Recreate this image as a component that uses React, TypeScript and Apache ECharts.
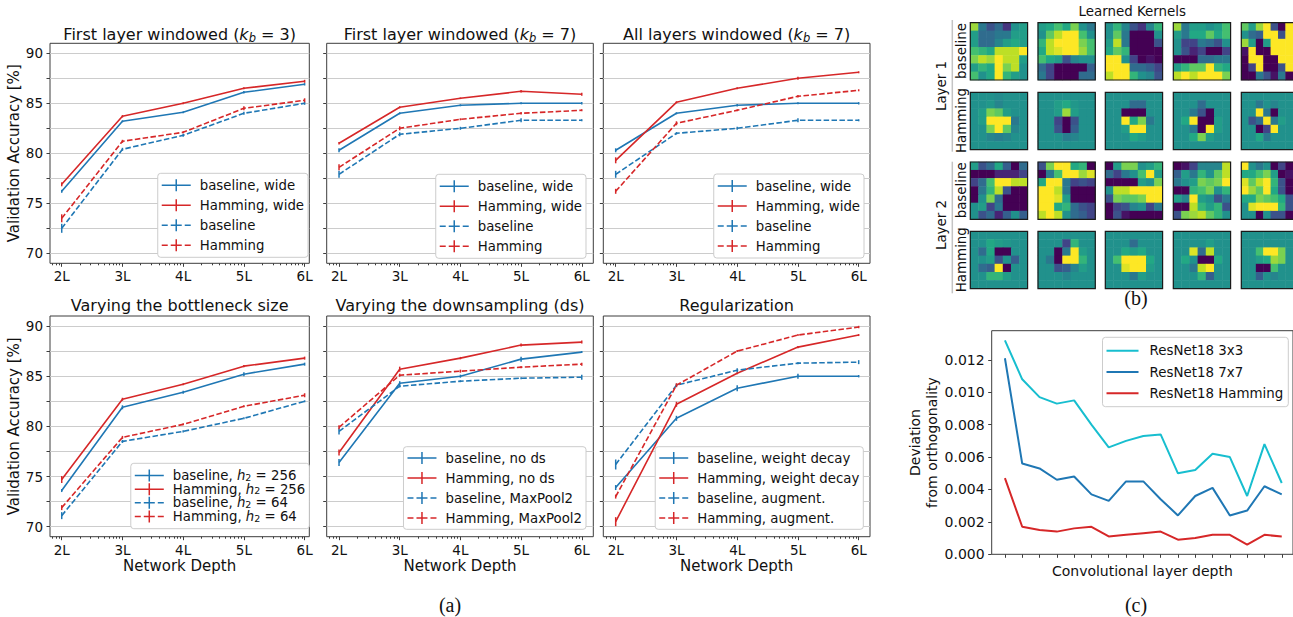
import React, { useEffect, useRef } from 'react';
import * as echarts from 'echarts';

const FONT = 'DejaVu Sans';
const SERIF = 'Liberation Serif';
const BLUE = '#1f77b4';
const RED = '#d62728';
const CYAN = '#17becf';
const INK = '#111111';
const SPINE = '#3d3d3d';

// ---------- (a) accuracy panels ----------
const DEPTH = [2, 3, 4, 5, 6];
const ACC_LABELS = [70, 75, 80, 85, 90];
const ACC_TICKS = [70, 72.5, 75, 77.5, 80, 82.5, 85, 87.5, 90];

const P1_BASE_WIDE = [76.2, 83.2, 84.1, 86.1, 86.9];
const P1_HAM_WIDE = [76.9, 83.7, 85.0, 86.5, 87.2];
const P1_BASE = [72.5, 80.4, 81.8, 84.0, 85.0];
const P1_HAM = [73.5, 81.2, 82.1, 84.5, 85.3];
const P1_BASE_WIDE_ERR = [0.15, 0.1, 0.1, 0.12, 0.12];
const P1_HAM_WIDE_ERR = [0.2, 0.12, 0.1, 0.1, 0.15];
const P1_BASE_ERR = [0.45, 0.15, 0.15, 0.15, 0.15];
const P1_HAM_ERR = [0.4, 0.15, 0.1, 0.2, 0.2];

const P2_BASE_WIDE = [80.3, 84.0, 84.8, 85.0, 85.0];
const P2_HAM_WIDE = [81.0, 84.6, 85.5, 86.2, 85.9];
const P2_BASE = [77.9, 81.9, 82.5, 83.3, 83.3];
const P2_HAM = [78.6, 82.5, 83.4, 84.0, 84.3];
const P2_BASE_WIDE_ERR = [0.2, 0.1, 0.1, 0.1, 0.12];
const P2_HAM_WIDE_ERR = [0.12, 0.1, 0.08, 0.12, 0.15];
const P2_BASE_ERR = [0.35, 0.2, 0.15, 0.2, 0.1];
const P2_HAM_ERR = [0.3, 0.2, 0.1, 0.12, 0.1];

const P3_BASE_WIDE = [80.3, 84.0, 84.8, 85.0, 85.0];
const P3_HAM_WIDE = [79.3, 85.1, 86.5, 87.5, 88.1];
const P3_BASE = [77.9, 82.0, 82.5, 83.3, 83.3];
const P3_HAM = [76.2, 83.0, 84.3, 85.7, 86.3];
const P3_BASE_WIDE_ERR = [0.2, 0.1, 0.12, 0.1, 0.12];
const P3_HAM_WIDE_ERR = [0.3, 0.1, 0.1, 0.15, 0.1];
const P3_BASE_ERR = [0.35, 0.12, 0.15, 0.2, 0.1];
const P3_HAM_ERR = [0.25, 0.2, 0.1, 0.12, 0.1];

const P4_BASE_256 = [73.6, 81.9, 83.4, 85.2, 86.2];
const P4_HAM_256 = [74.7, 82.7, 84.2, 86.0, 86.8];
const P4_BASE_64 = [71.1, 78.5, 79.5, 80.8, 82.5];
const P4_HAM_64 = [71.9, 78.9, 80.2, 82.0, 83.1];
const P4_BASE_256_ERR = [0.15, 0.2, 0.15, 0.2, 0.15];
const P4_HAM_256_ERR = [0.35, 0.15, 0.1, 0.12, 0.15];
const P4_BASE_64_ERR = [0.35, 0.15, 0.12, 0.1, 0.1];
const P4_HAM_64_ERR = [0.25, 0.15, 0.1, 0.1, 0.2];

const P5_BASE_NODS = [76.4, 84.3, 85.0, 86.7, 87.4];
const P5_HAM_NODS = [77.4, 85.7, 86.8, 88.1, 88.4];
const P5_BASE_POOL = [79.5, 84.0, 84.5, 84.8, 84.9];
const P5_HAM_POOL = [79.9, 85.1, 85.5, 85.9, 86.2];
const P5_BASE_NODS_ERR = [0.35, 0.2, 0.15, 0.25, 0.1];
const P5_HAM_NODS_ERR = [0.3, 0.25, 0.12, 0.15, 0.15];
const P5_BASE_POOL_ERR = [0.3, 0.12, 0.1, 0.1, 0.25];
const P5_HAM_POOL_ERR = [0.2, 0.15, 0.15, 0.1, 0.15];

const P6_BASE_WD = [73.9, 80.8, 83.8, 85.0, 85.0];
const P6_HAM_WD = [70.5, 82.2, 85.3, 87.9, 89.1];
const P6_BASE_AUG = [76.2, 84.1, 85.6, 86.3, 86.4];
const P6_HAM_AUG = [73.0, 84.1, 87.5, 89.1, 89.9];
const P6_BASE_WD_ERR = [0.25, 0.25, 0.3, 0.25, 0.12];
const P6_HAM_WD_ERR = [0.45, 0.25, 0.1, 0.12, 0.1];
const P6_BASE_AUG_ERR = [0.5, 0.15, 0.2, 0.1, 0.2];
const P6_HAM_AUG_ERR = [0.2, 0.2, 0.1, 0.1, 0.12];

// ---------- (c) orthogonality ----------
const LAYER_IDX = [1, 2, 3, 4, 5, 6, 7, 8, 9, 10, 11, 12, 13, 14, 15, 16, 17];
const ORTHO_TICKS = [0, 0.002, 0.004, 0.006, 0.008, 0.01, 0.012];
const ORTHO_3X3 = [0.0132, 0.0108, 0.0097, 0.0093, 0.0095, 0.0080, 0.0066, 0.0070, 0.0073, 0.0074, 0.0050, 0.0052, 0.0062, 0.0060, 0.0036, 0.0068, 0.0044];
const ORTHO_7X7 = [0.0121, 0.0056, 0.0053, 0.0046, 0.0048, 0.0037, 0.0033, 0.0045, 0.0045, 0.0034, 0.0024, 0.0036, 0.0041, 0.0024, 0.0027, 0.0042, 0.0037];
const ORTHO_HAM = [0.0047, 0.0017, 0.0015, 0.0014, 0.0016, 0.0017, 0.0011, 0.0012, 0.0013, 0.0014, 0.0009, 0.0010, 0.0012, 0.0012, 0.0006, 0.0012, 0.0011];

// ---------- (b) learned kernels (7x7, -1 = dark purple, 0 = teal, 1 = yellow) ----------
const L1_BASELINE = [
  [[0.7, -0.2, -0.5, -0.3, -0.7, 0, 0.1], [0.1, -0.3, -0.3, -0.2, -0.2, 0.1, 0.1], [0.1, -0.3, -0.3, -0.1, 0.1, 0.2, 0.1], [0.4, 0.3, 0.2, 0.8, 0.8, 0.8, 1], [0.6, 0.8, 0.7, 1, 0.8, 0.8, 0.1], [0.1, 0.3, 0.2, 1, 0.6, 0.8, 0], [0.4, 0, 0.2, 1, 0.3, 0.1, 0]],
  [[0.1, 0.2, 0.4, 0.2, 0.6, 0, -0.2], [0, 0.5, 0.8, 1, 1, 0.4, 0], [0.3, 0.8, 1, 1, 1, 0.6, 0.4], [0.2, 0.8, 0.9, 1, 1, 0.7, 0.4], [0.4, 0.2, 0.1, -0.5, -0.1, 0, 0], [-0.3, -0.6, -1, -1, -1, -1, -0.4], [-0.2, -0.6, -1, -1, -1, -0.3, -0.3]],
  [[0, 0.3, -0.1, -0.5, -0.7, -0.1, 0.3], [0, 0.5, -0.2, -1, -1, -1, 0], [0.1, 0.8, -0.2, -1, -1, -1, -0.5], [0.2, 0.5, 0.3, -1, -1, -1, -1], [1, 1, 0, -0.6, -1, -0.9, -1], [1, 1, 1, -0.3, -0.3, -0.4, -0.6], [0.8, 1, 1, 0.3, 0, -0.1, -0.5]],
  [[0.7, -0.2, 0.1, 0.1, 0, 0.1, 0.4], [0.1, -0.2, 0.2, 0.2, 0.5, 0.2, 0.4], [0, -0.6, -0.6, -0.2, -0.3, -0.5, 0], [0, -0.5, -0.8, -0.6, -1, -1, -0.6], [-1, -1, -1, -0.3, -0.3, -0.2, -0.2], [0.1, 0.3, 0.5, 0.5, 1, 0.3, 0.2], [0.8, 1, 0.8, 1, 1, 1, 0.6]],
  [[0.5, 0.1, 0.7, 1, -0.5, -1, 1], [0, -0.3, -0.4, 1, 1, -0.5, 1], [0.7, 0.1, -1, 0.1, 1, 1, 1], [-0.9, 1, -1, -1, 1, 1, 1], [-1, 1, 1, -1, -1, 1, 1], [-1, -0.6, 1, -1, -1, -0.5, 1], [-1, -1, -0.2, -0.5, -0.9, -0.2, -1]],
];
const L1_HAMMING = [
  [[0, 0, 0, -0.05, 0, 0, 0], [0, 0, 0.05, -0.1, 0, 0, 0], [0, 0.1, 0.6, 0.5, 0.1, 0, 0], [0, 0.1, 1, 1, 1, -0.2, 0], [0, 0, 0.6, 1, 0.5, -0.1, 0], [0, 0, -0.1, -0.15, -0.1, 0, 0], [0, 0, 0, 0, 0, 0, 0]],
  [[0, 0, 0, 0, 0, 0, 0], [0, 0, 0.1, 0.2, 0.05, 0, 0], [0, 0, 0.1, 0.7, 0.1, 0, 0], [0, 0, -0.6, -1, -0.5, 0, 0], [0, 0, -0.5, -1, -0.4, 0, 0], [0, 0, 0, -0.15, -0.1, 0, 0], [0, 0, 0, 0, 0, 0, 0]],
  [[0, 0, 0, 0, 0, 0, 0], [0, 0, 0, -0.3, -0.3, 0, 0], [0, 0, -1, -1, -1, 0, 0], [0, 0, 1, 0.2, 0.6, -0.2, 0], [0, 0, 0.1, 1, 1, 0, 0], [0, 0, 0, 0.2, 0.1, 0, 0], [0, 0, 0, 0, 0, 0, 0]],
  [[0, 0, 0, 0, 0, 0, 0], [0, 0, 0, -0.3, 0, 0, 0], [0, 0, -0.2, -0.5, -1, 0, 0], [0, 0.2, 1, -1, -1, 0.1, 0], [0, 0, -0.2, -1, 1, 0.1, 0], [0, 0, 0.2, 0.6, 0.1, 0, 0], [0, 0, 0, 0, 0, 0, 0]],
  [[0, 0, 0, 0, 0, 0, 0], [0, 0, -0.2, 0, -0.1, 0, 0], [0, 0, 1, -0.2, -1, 0, 0], [0, -0.5, -0.3, 1, -0.2, 0.1, 0], [0, 0, -1, -0.6, 1, 0, 0], [0, 0, 0.2, -0.2, 0, 0, 0], [0, 0, 0, 0, 0, 0, 0]],
];
const L2_BASELINE = [
  [[0.1, -0.5, -0.3, 0.2, -0.4, -1, -0.3], [-1, -1, -1, -0.8, -0.8, -0.8, -0.6], [-0.6, -0.3, 0.4, 1, 1, 0.8, 0.8], [-1, -0.2, 0.3, 0.8, -0.5, -1, -1], [-1, 0, 0.6, -0.3, -1, -1, -1], [0, 0.1, -0.6, -0.2, -1, -1, -1], [0, -0.5, -0.3, -0.8, -0.4, 0, -0.4]],
  [[-0.5, 0.6, 1, 1, 0.2, 0.3, -1], [-1, -0.2, 0.4, 1, 1, 0.7, 0.9], [0.2, 1, 1, -0.2, -0.6, -0.5, -0.6], [1, 1, 0.8, -0.2, -1, -1, -1], [1, 1, 0.9, 0.1, -1, -1, -1], [1, 1, 0.2, 0.3, -0.3, -0.5, -0.6], [0.8, 1, 0.8, 0, -0.3, -0.4, -0.6]],
  [[-1, 0.1, 0.6, 0.6, 0, 0.1, 0.3], [-0.3, -0.6, -0.2, 0, 0.4, 1, 0.1], [-1, -1, -1, -1, 0.1, 0, 0.6], [0, 0.8, 0.8, 1, 1, 1, 1], [-0.5, 0.6, 0.5, 0.5, 0.6, 1, 1], [-1, -0.6, -0.5, -0.1, 0, -0.6, -0.2], [-1, -0.5, -0.9, -1, -1, -1, -1]],
  [[-1, -0.9, -0.6, -0.1, -0.1, -0.1, 0.8], [-0.4, 0.1, -0.2, 0.3, 0, 0.5, 0.8], [-0.2, 0, 0.1, 0.6, 0.5, 0.6, 1], [-1, -1, 0.3, 0.4, 0.6, 0, 0.3], [0.1, -0.1, 1, 0.1, 0, -0.5, -0.2], [-1, -1, 0.8, 0.3, 0.1, 0.3, -0.5], [-0.5, 0.6, 0.7, 0.8, 0.5, 0.3, 0]],
  [[1, 0, -0.2, 0, -1, -0.6, -1], [0.2, 0.2, 0.4, 0.6, 0.1, -1, -0.9], [0.9, 0.5, 0.8, 1, 0.3, -0.5, -1], [1, 0.7, 0.5, 1, 0.2, -0.5, -1], [0.2, 0.2, 0.6, 0.5, 0.4, 0.2, -0.5], [0, 0.9, 1, 1, 1, 0.3, -0.5], [0, 0, -1, 0, -0.5, -0.5, -1]],
];
const L2_HAMMING = [
  [[0, 0, 0, 0, 0, 0, 0], [0, 0, 0.2, 0.1, 0.05, 0, 0], [0, -0.3, 0.2, -1, -1, 0, 0], [0, 0, 0.1, -0.5, 0, -0.4, 0], [0, -0.3, -0.4, 1, -1, 0, 0], [0, 0, 0.3, 0.3, 0.1, 0, 0], [0, 0, 0, 0, 0, 0, 0]],
  [[0, 0, 0, 0, 0, 0, 0], [0, 0, 0, -0.6, 0.3, 0, 0], [0, 0, -1, -0.2, 1, 0.1, 0], [0, -0.2, -1, 1, 1, 0.3, 0], [0, 0, -0.5, -0.4, -0.1, 0.1, 0], [0, 0, 0, -0.1, 0, 0, 0], [0, 0, 0, 0, 0, 0, 0]],
  [[0, 0, 0, 0, 0, 0, 0], [0, 0, 0, -0.3, 0, 0, 0], [0, 0, 0.2, 0.1, 0.2, 0, 0], [0, 0.4, 1, 1, 1, 0.2, 0], [0, 0, 0.9, 1, 1, 0.1, 0], [0, 0, 0, -0.2, 0.1, 0, 0], [0, 0, 0, 0, 0, 0, 0]],
  [[0, 0, 0, 0, 0, 0, 0], [0, 0, 0, 0, 0.1, 0, 0], [0, 0, 0.9, -0.3, 0.8, 0, 0], [0, 0.2, 0, -1, -1, 0.2, 0], [0, 0, -0.2, 0.8, 1, 0, 0], [0, 0, 0, 0.3, -0.4, 0, 0], [0, 0, 0, 0, 0, 0, 0]],
  [[0, 0, 0, 0, 0, 0, 0], [0, 0, 0, 0, 0, 0, 0], [0, 0, 0.4, 1, 1, 0.6, 0], [0, 0, 0.1, 0.2, 0.7, 0.6, 0], [0, 0, -1, -1, 0.4, 0, 0], [0, 0, -0.4, 0, -0.1, 0, 0], [0, 0, 0, 0, 0, 0, 0]],
];

const VIRIDIS = ['#440154', '#482475', '#414487', '#355f8d', '#2a788e', '#21918c', '#22a884', '#44bf70', '#7ad151', '#bddf26', '#fde725'];

// ---------- panel definitions ----------
type Line = { name: string; values: number[]; err: number[]; color: string; dashed: boolean };
type Panel = { title: string; lines: Line[] };

const PANELS: Panel[] = [
  { title: '{t|First layer windowed (}{i|k}{s|b}{t| = 3)}', lines: [
    { name: 'baseline, wide', values: P1_BASE_WIDE, err: P1_BASE_WIDE_ERR, color: BLUE, dashed: false },
    { name: 'Hamming, wide', values: P1_HAM_WIDE, err: P1_HAM_WIDE_ERR, color: RED, dashed: false },
    { name: 'baseline', values: P1_BASE, err: P1_BASE_ERR, color: BLUE, dashed: true },
    { name: 'Hamming', values: P1_HAM, err: P1_HAM_ERR, color: RED, dashed: true },
  ] },
  { title: '{t|First layer windowed (}{i|k}{s|b}{t| = 7)}', lines: [
    { name: 'baseline, wide', values: P2_BASE_WIDE, err: P2_BASE_WIDE_ERR, color: BLUE, dashed: false },
    { name: 'Hamming, wide', values: P2_HAM_WIDE, err: P2_HAM_WIDE_ERR, color: RED, dashed: false },
    { name: 'baseline', values: P2_BASE, err: P2_BASE_ERR, color: BLUE, dashed: true },
    { name: 'Hamming', values: P2_HAM, err: P2_HAM_ERR, color: RED, dashed: true },
  ] },
  { title: '{t|All layers windowed (}{i|k}{s|b}{t| = 7)}', lines: [
    { name: 'baseline, wide', values: P3_BASE_WIDE, err: P3_BASE_WIDE_ERR, color: BLUE, dashed: false },
    { name: 'Hamming, wide', values: P3_HAM_WIDE, err: P3_HAM_WIDE_ERR, color: RED, dashed: false },
    { name: 'baseline', values: P3_BASE, err: P3_BASE_ERR, color: BLUE, dashed: true },
    { name: 'Hamming', values: P3_HAM, err: P3_HAM_ERR, color: RED, dashed: true },
  ] },
  { title: '{t|Varying the bottleneck size}', lines: [
    { name: 'baseline, h2 = 256', values: P4_BASE_256, err: P4_BASE_256_ERR, color: BLUE, dashed: false },
    { name: 'Hamming, h2 = 256', values: P4_HAM_256, err: P4_HAM_256_ERR, color: RED, dashed: false },
    { name: 'baseline, h2 = 64', values: P4_BASE_64, err: P4_BASE_64_ERR, color: BLUE, dashed: true },
    { name: 'Hamming, h2 = 64', values: P4_HAM_64, err: P4_HAM_64_ERR, color: RED, dashed: true },
  ] },
  { title: '{t|Varying the downsampling (ds)}', lines: [
    { name: 'baseline, no ds', values: P5_BASE_NODS, err: P5_BASE_NODS_ERR, color: BLUE, dashed: false },
    { name: 'Hamming, no ds', values: P5_HAM_NODS, err: P5_HAM_NODS_ERR, color: RED, dashed: false },
    { name: 'baseline, MaxPool2', values: P5_BASE_POOL, err: P5_BASE_POOL_ERR, color: BLUE, dashed: true },
    { name: 'Hamming, MaxPool2', values: P5_HAM_POOL, err: P5_HAM_POOL_ERR, color: RED, dashed: true },
  ] },
  { title: '{t|Regularization}', lines: [
    { name: 'baseline, weight decay', values: P6_BASE_WD, err: P6_BASE_WD_ERR, color: BLUE, dashed: false },
    { name: 'Hamming, weight decay', values: P6_HAM_WD, err: P6_HAM_WD_ERR, color: RED, dashed: false },
    { name: 'baseline, augment.', values: P6_BASE_AUG, err: P6_BASE_AUG_ERR, color: BLUE, dashed: true },
    { name: 'Hamming, augment.', values: P6_HAM_AUG, err: P6_HAM_AUG_ERR, color: RED, dashed: true },
  ] },
];

const RICH_LEGEND: Record<string, string> = {
  'baseline, h2 = 256': '{t|baseline, }{i|h}{s|2}{t| = 256}',
  'Hamming, h2 = 256': '{t|Hamming, }{i|h}{s|2}{t| = 256}',
  'baseline, h2 = 64': '{t|baseline, }{i|h}{s|2}{t| = 64}',
  'Hamming, h2 = 64': '{t|Hamming, }{i|h}{s|2}{t| = 64}',
};

// ---------- layout (pixels) ----------
const COL_LEFT = [50, 326.7, 603.3];
const COL_W = [259.3, 266.6, 266.7];
const COL_XMIN = [1.807, 1.797, 1.796];
const COL_XMAX = [6.077, 6.19, 6.186];
const ROW_TOP = [43.3, 316];
const ROW_H = [220, 220.7];
const LEG_RIGHT = [985, 707, 429, 983.7, 707, 429.7];
const LEG_TOP = [173.3, 174.3, 174, 463.3, 446.7, 446.7];
const KX = [970.3, 1038, 1105.3, 1173.3, 1241.3];
const KY = [22.7, 92.3, 162, 231.3];
const KS = 57.3;

const SOLID_ICON = 'path://M0,5.25h29v1.5H0z M13.75,0h1.5v12h-1.5z';
const DASH_ICON = 'path://M0,5.25h6v1.5H0z M9,5.25h11v1.5H9z M23,5.25h6v1.5h-6z M13.75,0h1.5v12h-1.5z';

function buildOption() {
  const grid: any[] = [];
  const xAxis: any[] = [];
  const yAxis: any[] = [];
  const series: any[] = [];
  const legend: any[] = [];
  const graphic: any[] = [];
  const heatIdx: number[] = [];

  const tickLine = { color: SPINE, width: 1 };
  const labelBase = { color: INK, fontFamily: FONT, fontSize: 13.5 };

  PANELS.forEach((p, pi) => {
    const col = pi % 3;
    const row = Math.floor(pi / 3);
    const gi = grid.length;
    grid.push({ left: COL_LEFT[col], top: ROW_TOP[row], width: COL_W[col], height: ROW_H[row], show: true, borderColor: SPINE, borderWidth: 1, backgroundColor: 'transparent' });
    const minor: number[] = [];
    for (let d = 1; d <= 6; d++) for (let m = 2; m <= 9; m++) {
      const v = d + Math.log10(m);
      if (v > COL_XMIN[col] && v < COL_XMAX[col]) minor.push(v);
    }
    const xi = xAxis.length;
    xAxis.push({
      type: 'value', gridIndex: gi, min: COL_XMIN[col], max: COL_XMAX[col], position: 'bottom',
      axisLine: { show: false }, splitLine: { show: false },
      axisTick: { show: true, customValues: DEPTH, length: 3.5, lineStyle: tickLine },
      axisLabel: { show: true, customValues: DEPTH, formatter: (v: number) => `${v}L`, margin: 6, ...labelBase },
      name: row === 1 ? 'Network Depth' : '', nameLocation: 'middle', nameGap: 22,
      nameTextStyle: { color: INK, fontFamily: FONT, fontSize: 15 },
    });
    xAxis.push({
      type: 'value', gridIndex: gi, min: COL_XMIN[col], max: COL_XMAX[col], position: 'bottom',
      axisLine: { show: false }, splitLine: { show: false }, axisLabel: { show: false },
      axisTick: { show: true, customValues: minor, length: 2, lineStyle: tickLine },
    });
    const yi = yAxis.length;
    yAxis.push({
      type: 'value', gridIndex: gi, min: 69, max: 91,
      axisLine: { show: false },
      axisTick: { show: true, customValues: ACC_TICKS, length: 3.5, lineStyle: tickLine },
      axisLabel: { show: col === 0, customValues: ACC_LABELS, margin: 7, ...labelBase },
      splitLine: { show: false },
      name: col === 0 ? 'Validation Accuracy [%]' : '', nameLocation: 'middle', nameGap: 27,
      nameTextStyle: { color: INK, fontFamily: FONT, fontSize: 15 },
    });
    // horizontal grid lines every 2.5 %
    series.push({
      type: 'line', name: '_grid', xAxisIndex: xi, yAxisIndex: yi, data: [], z: 1, silent: true,
      markLine: {
        z: 1, silent: true, symbol: ['none', 'none'], label: { show: false },
        lineStyle: { color: '#cccccc', width: 1.2, type: 'solid' },
        emphasis: { disabled: true },
        data: ACC_TICKS.map((v) => ({ yAxis: v })),
      },
    });
    p.lines.forEach((l) => {
      series.push({
        type: 'line', name: l.name, xAxisIndex: xi, yAxisIndex: yi,
        data: DEPTH.map((d, i) => [d, l.values[i]]),
        symbol: 'none', color: l.color,
        lineStyle: { color: l.color, width: 1.6, type: l.dashed ? [5.5, 2.4] : 'solid' },
        itemStyle: { color: l.color }, z: 3,
      });
    });
    p.lines.forEach((l) => {
      series.push({
        type: 'custom', name: '_err', xAxisIndex: xi, yAxisIndex: yi, z: 4,
        data: DEPTH.map((d, i) => [d, l.values[i] - l.err[i], l.values[i] + l.err[i]]),
        encode: { x: 0, y: [1, 2] },
        renderItem: (params: any, api: any) => {
          const a = api.coord([api.value(0), api.value(1)]);
          const b = api.coord([api.value(0), api.value(2)]);
          return { type: 'line', shape: { x1: a[0], y1: a[1], x2: b[0], y2: b[1] }, style: { stroke: l.color, lineWidth: 1.5 } };
        },
      });
    });
    const tight = pi === 3;
    legend.push({
      orient: 'vertical', right: LEG_RIGHT[pi], top: LEG_TOP[pi], selectedMode: false, z: 20,
      data: p.lines.map((l) => ({ name: l.name, icon: l.dashed ? DASH_ICON : SOLID_ICON })),
      itemWidth: 29, itemHeight: 12, itemGap: tight ? 0 : 4,
      padding: tight ? [5.5, 4, 5.5, 4] : (row === 1 ? [3.3, 4, 3.3, 4] : [4, 4, 4, 4]),
      backgroundColor: '#ffffff', borderColor: '#cccccc', borderWidth: 1, borderRadius: 3,
      itemStyle: { borderWidth: 0 },
      formatter: (n: string) => RICH_LEGEND[n] || `{t|${n}}`,
      textStyle: {
        color: INK, fontFamily: FONT, fontSize: 13.3, lineHeight: tight ? 13.6 : 16, padding: [0, 0, 0, 4],
        rich: {
          t: { color: INK, fontFamily: FONT, fontSize: 13.3, lineHeight: tight ? 13.6 : 16 },
          i: { color: INK, fontFamily: FONT, fontSize: 13.3, fontStyle: 'italic', lineHeight: tight ? 13.6 : 16 },
          s: { color: INK, fontFamily: FONT, fontSize: 9.5, verticalAlign: 'bottom', lineHeight: 10 },
        },
      },
    });
    graphic.push({
      type: 'text', x: COL_LEFT[col] + COL_W[col] / 2, y: row === 0 ? 34 : 305, z: 10,
      style: {
        text: p.title, align: 'center', verticalAlign: 'middle', fill: INK,
        rich: {
          t: { fill: INK, fontFamily: FONT, fontSize: 16, lineHeight: 20 },
          i: { fill: INK, fontFamily: FONT, fontSize: 16, fontStyle: 'italic', lineHeight: 20 },
          s: { fill: INK, fontFamily: FONT, fontSize: 11.5, fontStyle: 'italic', verticalAlign: 'bottom', lineHeight: 12 },
        },
      },
    });
  });

  // ---------- (b) kernels ----------
  const KERNEL_ROWS = [L1_BASELINE, L1_HAMMING, L2_BASELINE, L2_HAMMING];
  const CELL_IDX = [0, 1, 2, 3, 4, 5, 6];
  KERNEL_ROWS.forEach((kernels, r) => {
    kernels.forEach((k, c) => {
      const gi = grid.length;
      grid.push({ left: KX[c], top: KY[r], width: KS, height: KS });
      const xi = xAxis.length;
      xAxis.push({ type: 'category', gridIndex: gi, data: CELL_IDX, show: false });
      const yi = yAxis.length;
      yAxis.push({ type: 'category', gridIndex: gi, data: CELL_IDX, inverse: true, show: false });
      heatIdx.push(series.length);
      const data: number[][] = [];
      k.forEach((rowVals, ry) => rowVals.forEach((v, cx) => data.push([cx, ry, v])));
      series.push({ type: 'heatmap', xAxisIndex: xi, yAxisIndex: yi, data, itemStyle: { borderWidth: 0 } });
      graphic.push({ type: 'rect', z: 50, shape: { x: KX[c], y: KY[r], width: KS, height: KS }, style: { fill: 'none', stroke: '#1a1a1a', lineWidth: 1.2 } });
    });
  });
  const kText = (text: string, x: number, y: number, rot = 0) => ({
    type: 'text', x, y, rotation: rot, z: 10,
    style: { text, align: 'center', verticalAlign: 'middle', fill: INK, fontFamily: FONT, fontSize: 13.4 },
  });
  graphic.push(kText('Learned Kernels', 1132.3, 11.7));
  graphic.push(kText('Layer 1', 941.7, 86, Math.PI / 2));
  graphic.push(kText('Layer 2', 941.7, 225, Math.PI / 2));
  graphic.push(kText('baseline', 961.7, 51, Math.PI / 2));
  graphic.push(kText('Hamming', 961.7, 120.5, Math.PI / 2));
  graphic.push(kText('baseline', 961.7, 190.3, Math.PI / 2));
  graphic.push(kText('Hamming', 961.7, 259.7, Math.PI / 2));
  graphic.push({ type: 'line', shape: { x1: 952.3, y1: 20, x2: 952.3, y2: 151.7 }, style: { stroke: '#c4c4c4', lineWidth: 1.5 } });
  graphic.push({ type: 'line', shape: { x1: 952.3, y1: 161.7, x2: 952.3, y2: 293.3 }, style: { stroke: '#c4c4c4', lineWidth: 1.5 } });

  // ---------- (c) ----------
  const cg = grid.length;
  grid.push({ left: 991.7, top: 330.7, width: 303, height: 223.6, show: true, borderColor: SPINE, borderWidth: 1, backgroundColor: 'transparent' });
  const cx = xAxis.length;
  xAxis.push({
    type: 'value', gridIndex: cg, min: 0.236, max: 17.65,
    axisLine: { show: false }, splitLine: { show: false }, axisLabel: { show: false },
    axisTick: { show: true, customValues: LAYER_IDX, length: 3.5, lineStyle: tickLine },
    name: 'Convolutional layer depth', nameLocation: 'middle', nameGap: 10,
    nameTextStyle: { color: INK, fontFamily: FONT, fontSize: 14 },
  });
  const cy = yAxis.length;
  yAxis.push({
    type: 'value', gridIndex: cg, min: 0, max: 0.0138,
    axisLine: { show: false }, splitLine: { show: false },
    axisTick: { show: true, customValues: ORTHO_TICKS, length: 3.5, lineStyle: tickLine },
    axisLabel: { show: true, customValues: ORTHO_TICKS, formatter: (v: number) => v.toFixed(3), margin: 7, color: INK, fontFamily: FONT, fontSize: 14 },
    name: 'Deviation\nfrom orthogonality', nameLocation: 'middle', nameGap: 50,
    nameTextStyle: { color: INK, fontFamily: FONT, fontSize: 14, lineHeight: 17 },
  });
  const ortho = [
    { name: 'ResNet18 3x3', values: ORTHO_3X3, color: CYAN },
    { name: 'ResNet18 7x7', values: ORTHO_7X7, color: BLUE },
    { name: 'ResNet18 Hamming', values: ORTHO_HAM, color: RED },
  ];
  ortho.forEach((o) => {
    series.push({
      type: 'line', name: o.name, xAxisIndex: cx, yAxisIndex: cy,
      data: LAYER_IDX.map((d, i) => [d, o.values[i]]), symbol: 'none', color: o.color,
      lineStyle: { color: o.color, width: 2 }, itemStyle: { color: o.color },
    });
  });
  legend.push({
    orient: 'vertical', right: 4.7, top: 337.3, selectedMode: false, z: 20,
    data: ortho.map((o) => ({ name: o.name, icon: 'path://M0,0h32v2H0z' })),
    itemWidth: 32, itemHeight: 2, itemGap: 5.3, padding: [5.4, 5, 5.4, 4],
    backgroundColor: '#ffffff', borderColor: '#cccccc', borderWidth: 1, borderRadius: 3,
    itemStyle: { borderWidth: 0 },
    textStyle: { color: INK, fontFamily: FONT, fontSize: 13.4, lineHeight: 16, padding: [0, 0, 0, 6] },
  });

  // panel letters
  const letter = (t: string, x: number, y: number) => ({
    type: 'text', x, y, z: 10,
    style: { text: t, align: 'center', verticalAlign: 'middle', fill: INK, fontFamily: SERIF, fontSize: 20 },
  });
  graphic.push(letter('(a)', 450, 605));
  graphic.push(letter('(b)', 1136, 298));
  graphic.push(letter('(c)', 1136, 605));

  return {
    animation: false,
    backgroundColor: '#ffffff',
    textStyle: { fontFamily: FONT },
    grid, xAxis, yAxis, series, legend, graphic,
    visualMap: { type: 'continuous', show: false, min: -1, max: 1, dimension: 2, seriesIndex: heatIdx, inRange: { color: VIRIDIS } },
  };
}

export default function App() {
  const ref = useRef<HTMLDivElement>(null);
  useEffect(() => {
    if (!ref.current) return;
    const chart = echarts.init(ref.current, null, { renderer: 'svg' });
    chart.setOption(buildOption() as any);
    return () => chart.dispose();
  }, []);
  return <div ref={ref} style={{ position: 'fixed', left: 0, top: 0, width: 1293, height: 617, background: '#fff' }} />;
}
